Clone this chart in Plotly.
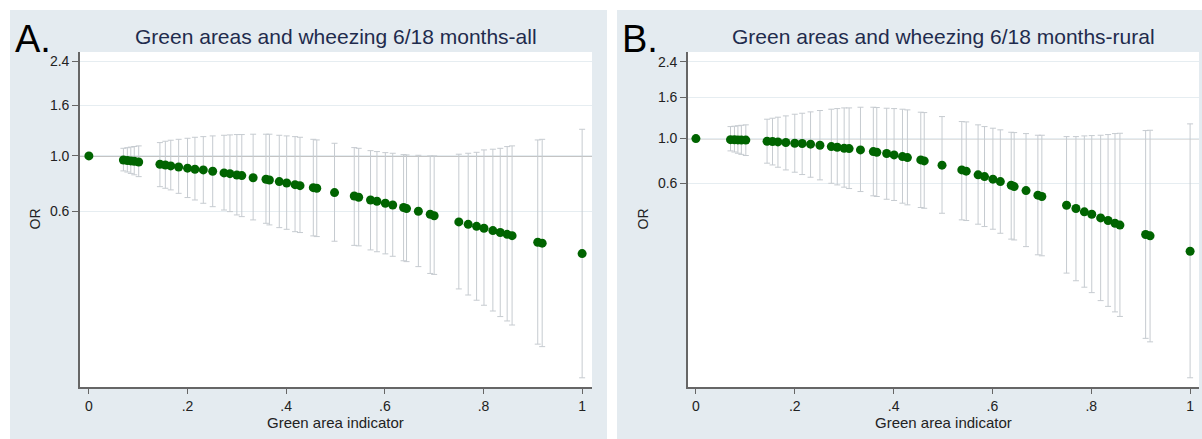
import math
import plotly.graph_objects as go

# ---------------- data ----------------
green_area = [0, 0.070, 0.078, 0.085, 0.092, 0.101,
              0.144, 0.155, 0.166, 0.182, 0.200, 0.215, 0.232, 0.251, 0.274, 0.286,
              0.300, 0.310, 0.333, 0.359, 0.366, 0.386, 0.401, 0.418, 0.428, 0.455,
              0.462, 0.498,
              0.538, 0.547, 0.571, 0.584, 0.601, 0.616, 0.638, 0.644, 0.668, 0.692,
              0.700, 0.750, 0.769, 0.786, 0.801, 0.819, 0.834, 0.848, 0.858, 0.910,
              0.919, 1.0]

or_all = [1.0, 0.963, 0.958, 0.955, 0.952, 0.946,
          0.926, 0.920, 0.912, 0.903, 0.893, 0.884, 0.879, 0.868, 0.855, 0.849,
          0.839, 0.834, 0.818, 0.806, 0.801, 0.789, 0.779, 0.767, 0.760, 0.746,
          0.742, 0.713,
          0.691, 0.683, 0.666, 0.658, 0.646, 0.636, 0.621, 0.615, 0.600, 0.584,
          0.576, 0.544, 0.532, 0.522, 0.513, 0.502, 0.493, 0.485, 0.479, 0.451,
          0.447, 0.406]
upper_all = [1.0, 1.073, 1.079, 1.085, 1.091, 1.097,
             1.131, 1.145, 1.156, 1.166, 1.177, 1.188, 1.195, 1.203, 1.210, 1.214,
             1.218, 1.218, 1.222, 1.222, 1.222, 1.210, 1.203, 1.195, 1.188, 1.166,
             1.159, 1.124,
             1.080, 1.073, 1.050, 1.041, 1.031, 1.025, 1.012, 1.009, 1.006, 1.000,
             1.000, 1.016, 1.025, 1.034, 1.057, 1.064, 1.073, 1.090, 1.097, 1.159,
             1.166, 1.279]
lower_all = [1.0, 0.871, 0.862, 0.851, 0.840, 0.826,
             0.753, 0.742, 0.731, 0.708, 0.681, 0.666, 0.646, 0.626, 0.607, 0.598,
             0.580, 0.571, 0.554, 0.537, 0.529, 0.516, 0.508, 0.497, 0.493, 0.478,
             0.475, 0.455,
             0.438, 0.436, 0.420, 0.413, 0.405, 0.396, 0.380, 0.377, 0.360, 0.338,
             0.335, 0.293, 0.277, 0.264, 0.252, 0.239, 0.227, 0.218, 0.210, 0.176,
             0.172, 0.129]

or_rural = [1.0, 0.988, 0.986, 0.985, 0.984, 0.983,
            0.970, 0.967, 0.963, 0.956, 0.948, 0.945, 0.938, 0.927, 0.913, 0.906,
            0.896, 0.892, 0.879, 0.862, 0.856, 0.843, 0.830, 0.814, 0.805, 0.784,
            0.775, 0.738,
            0.699, 0.689, 0.661, 0.648, 0.629, 0.612, 0.587, 0.578, 0.552, 0.524,
            0.516, 0.467, 0.450, 0.433, 0.421, 0.404, 0.392, 0.380, 0.372, 0.334,
            0.329, 0.276]
upper_rural = [1.0, 1.147, 1.152, 1.158, 1.164, 1.170,
               1.248, 1.262, 1.277, 1.296, 1.321, 1.336, 1.357, 1.378, 1.399, 1.409,
               1.420, 1.420, 1.431, 1.431, 1.426, 1.415, 1.409, 1.399, 1.388, 1.352,
               1.346, 1.286,
               1.215, 1.210, 1.170, 1.147, 1.126, 1.105, 1.075, 1.071, 1.059, 1.039,
               1.039, 1.023, 1.023, 1.031, 1.035, 1.039, 1.047, 1.059, 1.063, 1.096,
               1.100, 1.183]
lower_rural = [1.0, 0.869, 0.858, 0.846, 0.835, 0.824,
               0.755, 0.740, 0.721, 0.699, 0.681, 0.663, 0.643, 0.624, 0.600, 0.589,
               0.574, 0.565, 0.546, 0.520, 0.516, 0.500, 0.493, 0.478, 0.469, 0.455,
               0.451, 0.426,
               0.395, 0.392, 0.376, 0.366, 0.355, 0.339, 0.317, 0.314, 0.291, 0.265,
               0.262, 0.215, 0.197, 0.183, 0.172, 0.157, 0.147, 0.138, 0.131, 0.102,
               0.098, 0.065]

x_tickvals = [0, 0.2, 0.4, 0.6, 0.8, 1.0]
x_ticktext = ["0", ".2", ".4", ".6", ".8", "1"]
y_tickvals = [0.6, 1.0, 1.6, 2.4]
y_ticktext = ["0.6", "1.0", "1.6", "2.4"]
ref_or = 1.0

panel_titles = ["Green areas and wheezing 6/18 months-all",
                "Green areas and wheezing 6/18 months-rural"]
panel_letters = ["A.", "B."]
x_title = "Green area indicator"
y_title = "OR"

# ---------------- styling / layout ----------------
W, H = 1202, 439
FONT = "Liberation Sans, Arial, sans-serif"
GREEN = "#006400"
ERR = "#c6cbd0"
BG = "#e4ebf0"
GRID = "#e6edf1"
AXIS = "#666666"


def px_x(p):
    return p / W


def px_y(p):
    return 1 - p / H


# plot areas in pixels (left, right, top, bottom)
areas = [(80, 592, 52, 387), (688, 1199, 52, 387)]
panels = [(10, 607), (617, 1202)]
y_ranges = [(0.1185, 2.61), (0.0585, 2.69)]
x_ranges = [(-0.018, 1.020), (-0.016, 1.018)]

fig = go.Figure()

series = [(or_all, upper_all, lower_all), (or_rural, upper_rural, lower_rural)]
for i, (orv, up, lo) in enumerate(series):
    xa = "x" if i == 0 else "x2"
    ya = "y" if i == 0 else "y2"
    fig.add_trace(go.Scatter(
        x=green_area, y=orv, mode="markers", xaxis=xa, yaxis=ya,
        marker=dict(color=GREEN, size=9, line=dict(width=0)),
        error_y=dict(type="data", symmetric=False,
                     array=[u - o for u, o in zip(up, orv)],
                     arrayminus=[o - l for o, l in zip(orv, lo)],
                     color=ERR, thickness=1, width=3),
        showlegend=False, hoverinfo="x+y"))

shapes = []
annotations = []
for i in range(2):
    l, r, t, b = areas[i]
    pl, pr = panels[i]
    shapes.append(dict(type="rect", xref="paper", yref="paper",
                       x0=px_x(pl), x1=px_x(pr), y0=0, y1=px_y(10),
                       fillcolor=BG, line=dict(width=0), layer="below"))
    shapes.append(dict(type="rect", xref="paper", yref="paper",
                       x0=px_x(l), x1=px_x(r), y0=px_y(b), y1=px_y(t),
                       fillcolor="white", line=dict(width=0), layer="below"))
    xr = "x" if i == 0 else "x2"
    yr = "y" if i == 0 else "y2"
    xlo, xhi = x_ranges[i]
    shapes.append(dict(type="line", xref=xr, yref=yr,
                       x0=xlo, x1=xhi, y0=ref_or, y1=ref_or,
                       line=dict(color="#8a8a8a", width=1.3), layer="below"))
    cx = (l + r) / 2
    annotations.append(dict(text=panel_titles[i], xref="paper", yref="paper",
                            x=px_x(cx), y=px_y(36), xanchor="center", yanchor="middle",
                            showarrow=False, font=dict(family=FONT, size=21, color="#1f2b4d")))
    annotations.append(dict(text=panel_letters[i], xref="paper", yref="paper",
                            x=px_x(pl + 3), y=px_y(39), xanchor="left", yanchor="middle",
                            showarrow=False, font=dict(family=FONT, size=38, color="black")))
    annotations.append(dict(text=x_title, xref="paper", yref="paper",
                            x=px_x(cx), y=px_y(422), xanchor="center", yanchor="middle",
                            showarrow=False, font=dict(family=FONT, size=15, color="#222222")))
    annotations.append(dict(text=y_title, xref="paper", yref="paper",
                            x=px_x(l - 46), y=px_y((t + b) / 2), xanchor="center", yanchor="middle",
                            textangle=-90,
                            showarrow=False, font=dict(family=FONT, size=14, color="#222222")))


def xaxis_cfg(i):
    l, r, t, b = areas[i]
    return dict(domain=[px_x(l), px_x(r)], range=list(x_ranges[i]),
                tickmode="array", tickvals=x_tickvals, ticktext=x_ticktext,
                ticks="outside", ticklen=5, tickwidth=1.2, tickcolor=AXIS,
                showline=True, linecolor=AXIS, linewidth=1.6,
                showgrid=False, zeroline=False,
                tickfont=dict(family=FONT, size=14, color="#222222"),
                anchor="y" if i == 0 else "y2", fixedrange=True)


def yaxis_cfg(i):
    l, r, t, b = areas[i]
    lo, hi = y_ranges[i]
    return dict(domain=[px_y(b), px_y(t)], type="log",
                range=[math.log10(lo), math.log10(hi)],
                tickmode="array", tickvals=y_tickvals, ticktext=y_ticktext,
                ticks="outside", ticklen=6, tickwidth=1.2, tickcolor=AXIS,
                showline=True, linecolor=AXIS, linewidth=1.6,
                showgrid=True, gridcolor=GRID, gridwidth=1, zeroline=False,
                tickfont=dict(family=FONT, size=14, color="#222222"),
                anchor="x" if i == 0 else "x2", fixedrange=True)


fig.update_layout(
    width=W, height=H, margin=dict(l=0, r=0, t=0, b=0),
    paper_bgcolor="white", plot_bgcolor="white",
    xaxis=xaxis_cfg(0), yaxis=yaxis_cfg(0),
    xaxis2=xaxis_cfg(1), yaxis2=yaxis_cfg(1),
    shapes=shapes, annotations=annotations,
    showlegend=False,
)

fig.write_html(
    "out.html",
    config={"displayModeBar": False},
    post_script="document.body.style.margin='0';document.body.style.overflow='hidden';",
)
